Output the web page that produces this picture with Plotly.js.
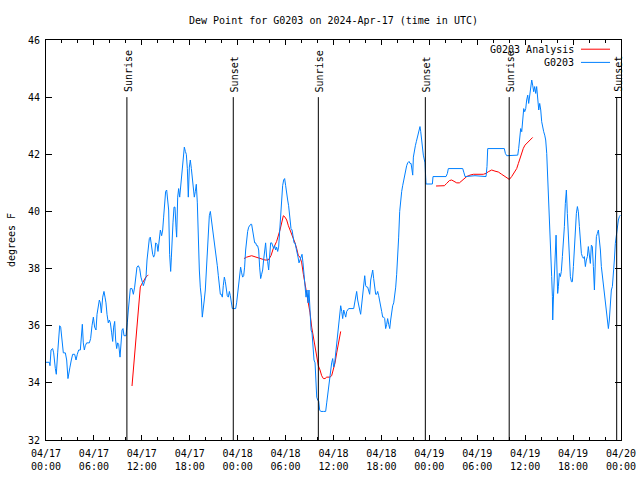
<!DOCTYPE html>
<html><head><meta charset="utf-8">
<script src="https://cdn.plot.ly/plotly-3.0.1.min.js"></script>
<style>html,body{margin:0;padding:0;background:#fff}#chart{width:640px;height:480px}</style>
</head><body><div id="chart"></div>
<script>
// hours since 2024-04-17 00:00 UTC
const startUTC = Date.UTC(2024, 3, 17);
const endUTC = Date.UTC(2024, 3, 20);

const obsHours = [
0,0.21,0.42,0.5,0.63,0.83,0.96,1.17,1.29,1.46,
1.59,1.71,1.84,1.96,2.17,2.42,2.59,2.75,2.84,3.0,
3.17,3.34,3.59,3.76,3.92,4.09,4.3,4.42,4.55,4.67,
4.8,4.92,5.09,5.43,5.59,5.76,5.93,6.09,6.26,6.39,
6.55,6.68,6.8,6.93,7.1,7.26,7.39,7.51,7.64,7.8,
7.93,8.06,8.22,8.35,8.47,8.6,8.72,8.85,8.97,9.1,
9.27,9.39,9.52,9.64,9.77,10.02,10.1,10.18,10.31,10.43,
10.56,10.77,10.94,11.1,11.27,11.39,11.56,11.73,11.89,12.06,
12.19,12.35,12.52,12.65,12.77,12.94,13.06,13.19,13.36,13.48,
13.61,13.73,13.9,14.02,14.19,14.32,14.48,14.61,14.73,14.86,
14.98,15.11,15.23,15.36,15.48,15.61,15.7,15.78,15.9,16.03,
16.15,16.28,16.36,16.49,16.61,16.74,16.86,16.99,17.11,17.24,
17.32,17.45,17.57,17.7,17.82,17.95,18.07,18.2,18.32,18.45,
18.57,18.7,18.82,18.95,19.07,19.2,19.32,19.45,19.57,19.7,
19.82,19.95,20.08,20.2,20.33,20.45,20.58,20.7,20.83,20.95,
21.08,21.2,21.33,21.45,21.58,21.7,21.83,21.95,22.08,22.2,
22.33,22.45,22.58,22.7,22.83,22.96,23.08,23.21,23.33,23.46,
23.75,23.87,24.0,24.12,24.25,24.37,24.5,24.62,24.75,24.87,
25.0,25.13,25.25,25.38,25.5,25.63,25.75,25.88,26.0,26.13,
26.25,26.38,26.5,26.63,26.75,26.88,27.0,27.13,27.25,27.38,
27.5,27.63,27.75,27.88,28.0,28.13,28.26,28.38,28.51,28.63,
28.76,28.88,29.01,29.13,29.26,29.38,29.51,29.63,29.76,29.88,
30.01,30.13,30.26,30.38,30.51,30.68,30.81,30.93,31.06,31.18,
31.31,31.43,31.56,31.68,31.81,31.93,32.06,32.18,32.31,32.43,
32.56,32.68,32.81,32.93,33.06,33.19,33.31,33.44,33.56,33.69,
33.81,33.9,34.02,34.15,34.27,34.4,34.73,35.02,35.15,35.27,
35.4,35.52,35.65,35.77,35.9,36.02,36.15,36.27,36.4,36.52,
36.65,36.77,36.9,37.03,37.15,37.28,37.4,37.53,37.65,37.78,
37.9,38.53,38.65,38.78,38.9,39.03,39.15,39.28,39.4,39.53,
39.65,39.78,39.91,40.03,40.16,40.28,40.41,40.53,40.66,40.78,
40.91,41.03,41.16,41.28,41.41,41.53,41.66,41.78,41.91,42.03,
42.16,42.28,42.41,42.53,42.66,42.78,42.91,43.04,43.16,43.29,
43.41,43.54,43.66,43.79,43.91,44.04,44.16,44.29,44.41,44.54,
44.66,44.79,44.91,45.04,45.16,45.29,45.46,45.58,45.71,45.83,
45.92,46.0,46.12,46.25,46.37,46.5,46.63,46.75,46.83,46.92,
47.0,47.08,47.17,47.25,47.38,47.46,47.54,47.59,48.38,48.46,
50.09,50.26,50.38,52.18,52.34,52.47,53.72,55.1,55.22,55.31,
57.39,57.52,57.69,58.94,59.07,59.19,59.32,59.44,59.57,59.69,
59.82,59.94,60.07,60.19,60.32,60.44,60.57,60.69,60.82,60.94,
61.07,61.19,61.32,61.44,61.57,61.7,61.82,61.95,62.07,62.2,
62.32,62.45,62.57,62.7,62.82,62.95,63.07,63.2,63.32,63.41,
63.45,63.53,63.66,63.78,63.87,63.95,64.07,64.16,64.28,64.41,
64.53,64.66,64.78,64.91,65.03,65.16,65.28,65.41,65.53,65.66,
65.79,65.91,66.04,66.16,66.29,66.41,66.54,66.66,66.79,66.91,
67.04,67.16,67.29,67.41,67.54,67.66,67.79,67.91,68.04,68.16,
68.29,68.41,68.54,68.67,68.79,68.92,69.04,69.17,69.29,69.42,
69.54,69.67,69.79,69.92,70.04,70.17,70.29,70.42,70.54,70.67,
70.79,70.92,71.04,71.17,71.29,71.42,71.55,71.67,71.8,71.92
];
const obsDewF = [
34.72,34.72,34.72,34.6,35.15,35.2,35.05,34.5,34.3,35.05,
35.5,36.0,35.95,35.5,35.05,35.05,34.8,34.15,34.35,34.55,
34.8,35.0,35.0,34.8,35.0,35.15,35.15,35.8,36.05,35.4,
35.15,35.3,35.4,35.4,35.55,36.0,36.3,35.95,35.85,36.4,
36.8,36.9,36.8,36.45,37.0,37.2,37.0,36.8,36.4,36.1,
36.2,36.1,35.75,35.45,35.95,36.15,35.5,35.2,35.4,35.35,
34.9,35.4,35.85,35.9,35.65,35.65,35.8,36.1,36.55,37.0,
37.3,37.3,37.1,37.35,37.7,38.05,38.1,38.0,37.7,37.55,
37.4,37.55,37.7,38.3,38.75,39.05,39.1,38.8,38.5,38.4,
38.5,38.9,38.85,38.6,39.1,39.35,39.15,39.35,39.8,40.2,
40.7,40.75,40.5,40.05,38.5,37.9,38.4,39.2,39.6,40.15,
40.15,39.45,39.1,40.5,40.8,40.5,40.85,41.2,41.65,42.0,
42.25,42.1,42.0,41.5,40.5,41.55,41.8,41.5,41.2,40.85,
40.5,40.7,40.95,40.3,38.9,37.95,37.35,37.0,36.3,36.55,
36.9,37.25,37.95,39.0,39.6,39.85,40.0,39.75,39.45,39.3,
39.0,38.75,38.45,38.1,37.75,37.45,37.1,37.1,37.0,37.4,
37.7,37.55,37.3,37.05,37.0,37.2,37.05,36.8,36.6,36.6,
36.6,36.8,37.2,37.55,37.95,38.05,37.85,37.7,37.75,38.05,
38.65,39.05,39.3,39.45,39.5,39.55,39.55,39.35,39.05,38.9,
38.9,38.8,38.8,38.65,38.05,37.65,37.8,37.95,38.3,38.7,
38.9,38.4,38.25,37.95,38.5,38.9,38.9,38.75,38.7,38.8,
38.65,38.75,38.6,38.75,39.35,39.8,40.5,40.9,41.1,41.15,
40.9,40.55,40.4,40.2,39.75,39.4,39.35,39.1,38.9,38.9,
38.75,38.65,38.4,38.2,38.3,38.4,38.5,38.2,37.7,37.35,
37.0,37.25,36.8,37.25,36.3,35.85,35.75,35.25,34.8,34.7,
34.1,33.5,33.4,33.35,33.05,33.0,33.0,33.0,33.3,33.6,
33.95,34.2,34.35,34.7,34.85,34.55,34.7,35.05,35.25,35.6,
36.1,36.5,36.7,36.5,36.25,36.55,36.4,36.3,36.5,36.55,
36.6,36.6,36.8,37.0,37.2,36.9,36.65,36.55,36.4,36.8,
37.1,37.6,37.75,37.4,37.35,37.35,37.25,37.1,37.6,37.8,
37.95,37.65,37.4,37.1,37.1,37.2,37.05,36.9,36.65,36.5,
36.3,36.3,36.25,35.9,36.05,36.25,36.05,35.9,36.2,36.5,
36.7,36.8,37.0,37.35,37.8,38.4,39.1,40.0,40.5,40.7,
40.9,41.1,41.3,41.45,41.6,41.7,41.75,41.68,41.68,41.45,
41.27,41.9,42.15,42.3,42.44,42.6,42.73,42.85,42.97,42.8,
42.6,42.27,41.97,41.97,41.8,41.7,41.2,40.96,40.96,41.22,
41.22,41.33,41.5,41.5,41.35,41.22,41.25,41.22,41.57,42.2,
42.2,42.03,41.95,41.95,41.97,42.21,42.67,42.9,42.79,43.37,
43.6,43.49,43.6,43.9,44.07,43.78,44.13,44.37,44.6,44.42,
44.19,44.37,44.13,44.37,44.02,43.55,43.78,43.55,43.14,42.9,
42.79,42.67,42.5,42.03,41.27,40.57,39.87,38.65,37.72,37.02,
36.2,36.9,37.6,38.65,39.17,38.3,37.13,37.37,37.83,37.72,
37.9,38.42,38.88,39.47,40.28,40.75,39.93,39.0,38.18,37.72,
37.54,37.54,38.07,38.77,39.47,39.93,40.17,39.99,39.47,38.77,
38.53,38.42,38.36,38.42,38.07,38.3,38.42,38.77,38.47,38.18,
38.82,38.77,38.07,37.25,38.3,39.12,39.23,39.35,39.0,38.65,
38.07,37.72,37.37,37.02,36.67,36.43,36.2,35.9,36.2,36.78,
37.25,37.37,37.72,38.3,38.88,39.23,39.58,39.7,39.82,39.87
];

// Analysis series (null = gap)
const anaHours = [
10.77,10.85,10.98,11.1,11.19,11.31,11.44,11.56,11.69,11.81,11.98,12.15,12.31,12.52,12.69,12.81, null,
24.79,25.13,25.75,26.38,27.0,27.42,27.84,28.17,28.46,28.88,
29.3,29.51,29.72,29.93,30.14,30.35,30.56,30.76,30.97,31.18,
31.39,31.6,31.81,32.02,32.23,32.43,32.64,32.85,33.06,33.27,
33.48,33.69,33.9,34.1,34.31,34.52,34.73,34.94,35.15,35.56,
35.77,35.98,36.19,36.4,36.61,36.82,36.9, null,
48.84,49.88,50.17,50.51,50.8,51.09,51.43,51.76,52.05,52.38,
52.68,53.09,53.51,54.76,55.1,55.39,55.81,56.22,56.64,57.06,
57.39,57.69,58.02,58.31,58.6,58.94,59.15,59.36,59.57,59.77,
59.98,60.4,60.69,60.94
];
const anaDewF = [
33.89,34.16,34.56,34.97,35.38,35.85,36.25,36.66,37.07,37.36,37.45,37.54,37.6,37.71,37.75,37.77, null,
38.35,38.4,38.45,38.4,38.35,38.3,38.3,38.45,38.7,38.95,
39.35,39.6,39.85,39.8,39.7,39.5,39.35,39.2,39.1,38.9,
38.7,38.45,38.4,38.2,37.8,37.5,37.2,36.9,36.45,35.95,
35.6,35.15,34.8,34.6,34.45,34.25,34.15,34.15,34.2,34.2,
34.25,34.45,34.7,35.05,35.4,35.65,35.8, null,
40.89,40.9,40.98,41.08,41.1,41.04,41.0,41.0,41.08,41.16,
41.22,41.27,41.3,41.3,41.33,41.39,41.45,41.41,41.38,41.3,
41.24,41.18,41.12,41.22,41.33,41.5,41.68,41.86,42.09,42.21,
42.32,42.44,42.53,42.59
];

const sunHours = [10.13, 23.45, 34.1, 47.5, 58.0, 71.46];
const sunLabels = ['Sunrise','Sunset','Sunrise','Sunset','Sunrise','Sunset'];
const sunLineTop = 44;

const seriesNames = ['G0203 Analysis', 'G0203'];
const seriesColors = ['#ff0000', '#0080ff'];

const FONT = 'DejaVu Sans Mono, monospace';
const toMs = h => (h === null ? null : startUTC + h * 3600000);

const traces = [
  { x: anaHours.map(toMs), y: anaDewF, type: 'scatter', mode: 'lines',
    name: seriesNames[0], line: { color: seriesColors[0], width: 1 }, connectgaps: false },
  { x: obsHours.map(toMs), y: obsDewF, type: 'scatter', mode: 'lines',
    name: seriesNames[1], line: { color: seriesColors[1], width: 1 } }
];

const shapes = sunHours.map(h => ({
  type: 'line', xref: 'x', yref: 'y', x0: toMs(h), x1: toMs(h), y0: 32, y1: sunLineTop,
  line: { color: '#000', width: 1 }
}));
const annotations = sunHours.map((h, i) => ({
  x: toMs(h), y: sunLineTop, xref: 'x', yref: 'y', text: sunLabels[i], showarrow: false,
  textangle: -90, xanchor: 'center', yanchor: 'bottom', xshift: 1, yshift: 3,
  font: { family: FONT, size: 10, color: '#000' }
}));

// custom legend (text then line sample, like the original)
const legY = [0.977, 0.944];
seriesNames.forEach((n, i) => {
  annotations.push({ xref: 'paper', yref: 'paper', x: 0.9183, y: legY[i], text: n,
    showarrow: false, xanchor: 'right', yanchor: 'middle', xshift: 2,
    font: { family: FONT, size: 10, color: '#000' } });
  shapes.push({ type: 'line', xref: 'paper', yref: 'paper', x0: 0.9304, x1: 0.9809,
    y0: legY[i], y1: legY[i], line: { color: seriesColors[i], width: 1 } });
});

const layout = {
  width: 640, height: 480,
  margin: { l: 46, r: 19, t: 40, b: 40 },
  paper_bgcolor: '#fff', plot_bgcolor: '#fff',
  showlegend: false,
  font: { family: FONT, size: 10, color: '#000' },
  title: { text: 'Dew Point for G0203 on 2024-Apr-17 (time in UTC)',
    font: { family: FONT, size: 10, color: '#000' },
    x: 0.5, xref: 'paper', y: 1 - 20 / 480, yref: 'container', yanchor: 'middle' },
  xaxis: {
    type: 'date', range: [startUTC, endUTC], tick0: startUTC, dtick: 6 * 3600000,
    tickformat: '%m/%d<br>%H:%M', ticks: 'inside', ticklen: 5, tickcolor: '#000',
    ticklabelstandoff: 4,
    showline: true, linecolor: '#000', linewidth: 1, mirror: 'ticks',
    showgrid: false, zeroline: false,
    minor: { dtick: 2 * 3600000, tick0: startUTC, ticks: 'inside', ticklen: 3, tickcolor: '#000', showgrid: false },
    tickfont: { family: FONT, size: 10, color: '#000' }
  },
  yaxis: {
    range: [32, 46], dtick: 2, tick0: 32, ticks: 'inside', ticklen: 6, tickcolor: '#000',
    ticklabelstandoff: 3,
    showline: true, linecolor: '#000', linewidth: 1, mirror: 'ticks',
    showgrid: false, zeroline: false,
    tickfont: { family: FONT, size: 10, color: '#000' },
    title: { text: 'degrees F', font: { family: FONT, size: 10, color: '#000' }, standoff: 10 }
  },
  shapes: shapes,
  annotations: annotations
};

Plotly.newPlot('chart', traces, layout, { displayModeBar: false, staticPlot: true });
</script>
</body></html>
